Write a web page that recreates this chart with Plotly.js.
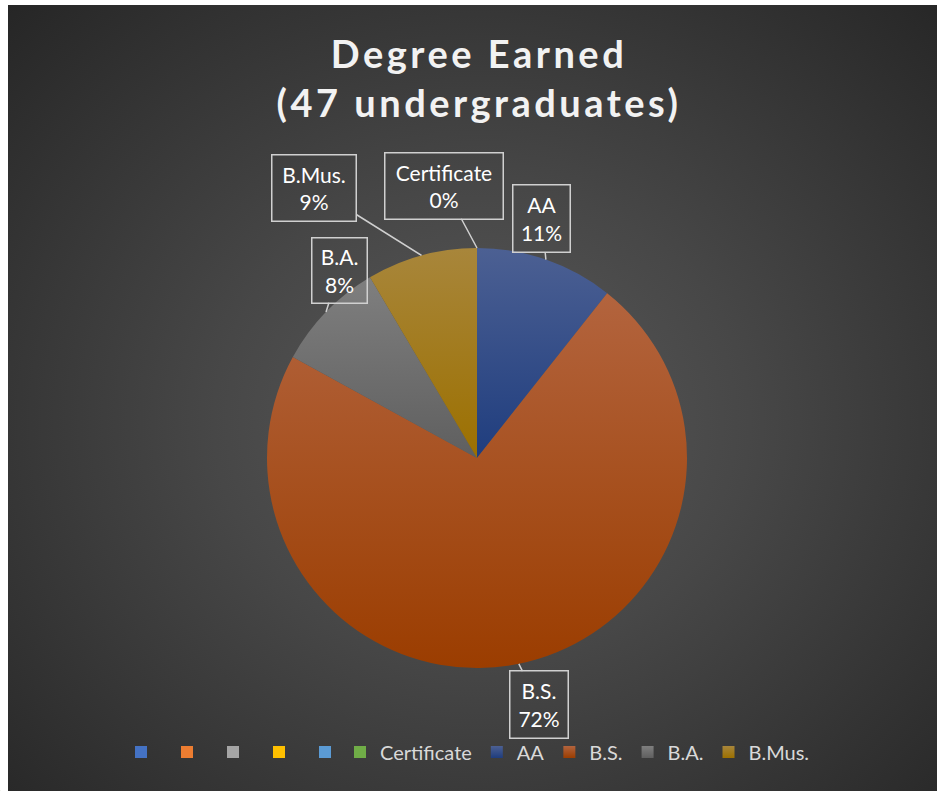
<!DOCTYPE html>
<html>
<head>
<meta charset="utf-8">
<script src="https://cdn.plot.ly/plotly-3.0.1.min.js"></script>
<style>
html,body{margin:0;padding:0;background:#ffffff;overflow:hidden;}
#wrap{position:absolute;left:0;top:0;width:937px;height:791px;}
#bg{position:absolute;left:8px;top:5px;right:0;bottom:0;
  background:radial-gradient(ellipse farthest-corner at 51% 53%, #5a5a5a 0%, #474747 40%, #262626 100%);}
#chart{position:absolute;left:0;top:0;width:937px;height:791px;}
.gtitle{letter-spacing:3.5px;}
</style>
</head>
<body>
<div id="wrap"><div id="bg"></div><div id="chart"></div></div>
<script>
// ---- data ----
const categories   = ['Certificate', 'AA', 'B.S.', 'B.A.', 'B.Mus.'];
const counts       = [0, 5, 34, 4, 4];          // 47 undergraduates
const shownPercent = [0, 11, 72, 8, 9];         // percentages printed in the callouts
const blankLegendLabels = ['\u00a0', '\u00a0\u00a0', '\u00a0\u00a0\u00a0', '\u00a0\u00a0\u00a0\u00a0', '\u00a0\u00a0\u00a0\u00a0\u00a0'];
const titleLines   = ['Degree Earned', '(47 undergraduates)'];

// ---- styles ----
const W = 937, H = 791;
const cx = 477, cy = 458, R = 210;
const blankColors = ['#4472C4', '#ED7D31', '#A5A5A5', '#FFC000', '#5B9BD5'];
const sliceColors = ['#70AD47', '#2f4a85', '#a54c1c', '#6e6e6e', '#a27b1d'];
const gradients = {
  'AA':     ['#4c6093', '#1f3d7e'],
  'B.S.':   ['#b3643e', '#9b3d00'],
  'B.A.':   ['#7f7f7f', '#5f5f5f'],
  'B.Mus.': ['#a8863b', '#9c7000']
};
// callout box centre offsets (px) from slice tip, and box sizes
const boxOffsets = [[-33.5, -62.5], [-4, -41], [20.5, 41], [13, -42], [-107.5, -67.5]];
const boxSizes   = [[119, 67], [58, 68], [59, 68], [56, 66], [85, 67]];

const total = counts.reduce((a, b) => a + b, 0);

const pie = {
  type: 'pie',
  labels: categories,
  values: counts,
  sort: false,
  direction: 'clockwise',
  rotation: 0,
  textinfo: 'none',
  hoverinfo: 'label+value',
  marker: {colors: sliceColors, line: {width: 0}},
  domain: {x: [(cx - R) / W, (cx + R) / W], y: [1 - (cy + R) / H, 1 - (cy - R) / H]},
  showlegend: true,
  legend: 'legend'
};

// empty-named legend entries that the reference shows (no visible slices)
const blankPie = {
  type: 'pie',
  labels: blankLegendLabels,
  values: blankLegendLabels.map(() => 1),
  sort: false,
  textinfo: 'none',
  hoverinfo: 'skip',
  marker: {colors: blankColors, line: {width: 0}},
  domain: {x: [0, 0.0005], y: [0, 0.0005]},
  showlegend: true,
  legend: 'legend2'
};

// callouts positioned at the mid-angle of each slice on the rim
const annotations = [];
let cum = 0;
categories.forEach((c, i) => {
  const mid = (cum + counts[i] / 2) / total * 2 * Math.PI;
  cum += counts[i];
  const tx = cx + R * Math.sin(mid);
  const ty = cy - R * Math.cos(mid);
  annotations.push({
    x: tx / W, y: 1 - ty / H, xref: 'paper', yref: 'paper',
    text: c + '<br>' + shownPercent[i] + '%',
    showarrow: true, arrowhead: 0, arrowwidth: 1.5, arrowcolor: '#d0d0d0',
    ax: boxOffsets[i][0], ay: boxOffsets[i][1],
    width: boxSizes[i][0] - 4, height: boxSizes[i][1] - 4,
    bordercolor: '#d0d0d0', borderwidth: 1.5, borderpad: 1,
    bgcolor: 'rgba(0,0,0,0)',
    font: {family: 'Lato, "Open Sans", sans-serif', size: 21, color: '#ffffff'},
    align: 'center', valign: 'middle'
  });
});

const legendFont = {family: 'Lato, "Open Sans", sans-serif', size: 20, color: '#d9d9d9'};
const layout = {
  width: W, height: H,
  margin: {l: 0, r: 0, t: 0, b: 0, autoexpand: false},
  paper_bgcolor: 'rgba(0,0,0,0)',
  plot_bgcolor: 'rgba(0,0,0,0)',
  title: {
    text: titleLines.join('<br>'),
    x: 479 / W, xanchor: 'center',
    y: 1 - 68 / H, yanchor: 'top', yref: 'container',
    font: {family: 'Lato, "Open Sans", sans-serif', size: 38, color: '#f2f2f2', weight: 'bold'}
  },
  legend: {
    orientation: 'h',
    x: 340 / W, xanchor: 'left',
    y: 1 - 752 / H, yanchor: 'middle',
    font: legendFont,
    bgcolor: 'rgba(0,0,0,0)',
    traceorder: 'normal'
  },
  legend2: {
    orientation: 'h',
    x: 121 / W, xanchor: 'left',
    y: 1 - 752 / H, yanchor: 'middle',
    font: legendFont,
    entrywidth: 1,
    bgcolor: 'rgba(0,0,0,0)',
    traceorder: 'normal'
  },
  annotations: annotations,
  showlegend: true
};

Plotly.newPlot('chart', [pie, blankPie], layout, {displayModeBar: false, staticPlot: true}).then(gd => {
  const defs = gd.querySelector('.main-svg defs');
  const ns = 'http://www.w3.org/2000/svg';
  Object.keys(gradients).forEach((k, idx) => {
    const lg = document.createElementNS(ns, 'linearGradient');
    lg.setAttribute('id', 'slicegrad' + idx);
    lg.setAttribute('x1', '0'); lg.setAttribute('y1', '0');
    lg.setAttribute('x2', '0'); lg.setAttribute('y2', '1');
    gradients[k].forEach((col, j) => {
      const st = document.createElementNS(ns, 'stop');
      st.setAttribute('offset', j === 0 ? '0' : '1');
      st.setAttribute('stop-color', col);
      lg.appendChild(st);
    });
    defs.appendChild(lg);
  });
  const keys = Object.keys(gradients);
  gd.querySelectorAll('g.slice').forEach(g => {
    const d = g.__data__;
    if (!d) return;
    const idx = keys.indexOf(d.label);
    if (idx < 0) return;
    const p = g.querySelector('path.surface');
    if (p) p.style.fill = 'url(#slicegrad' + idx + ')';
  });
  gd.querySelectorAll('g.traces').forEach(g => {
    const d = g.__data__;
    if (!d || !d[0]) return;
    const idx = keys.indexOf(d[0].label);
    if (idx < 0) return;
    const p = g.querySelector('path.legendpie');
    if (p) p.style.fill = 'url(#slicegrad' + idx + ')';
  });
});
</script>
</body>
</html>
